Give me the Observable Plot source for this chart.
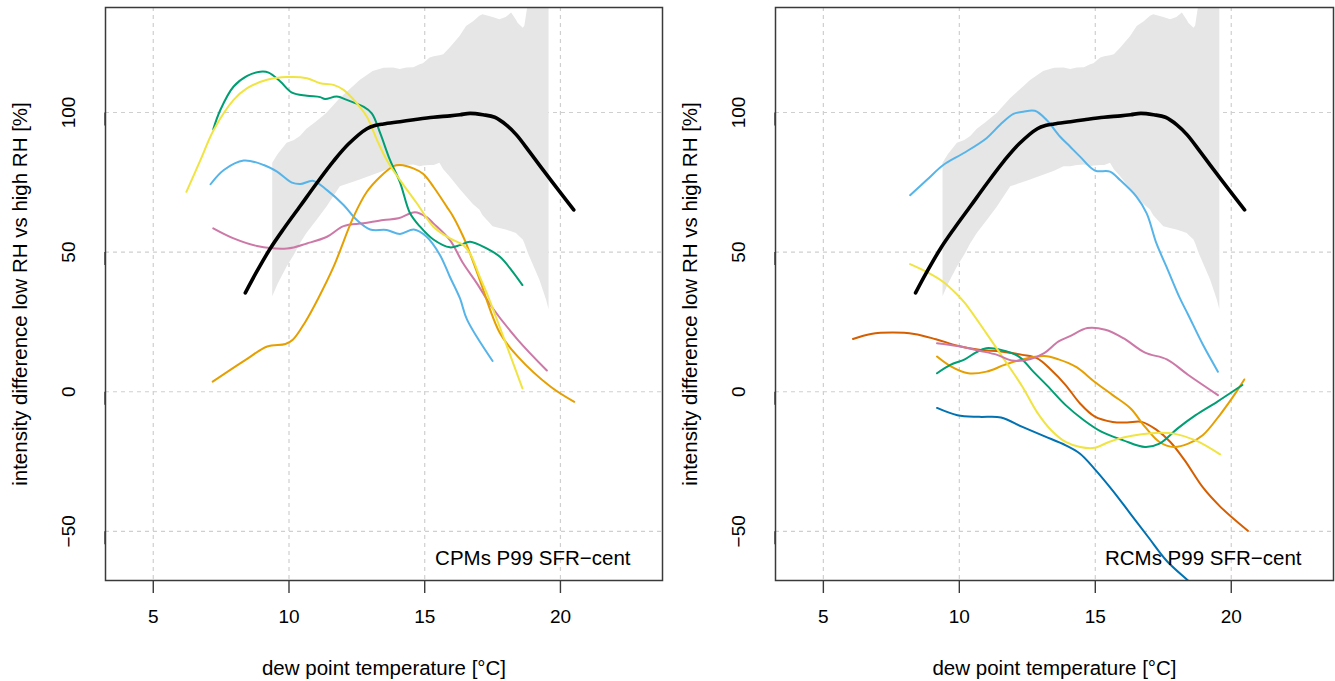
<!DOCTYPE html>
<html><head><meta charset="utf-8">
<script src="https://cdn.jsdelivr.net/npm/d3@7"></script>
<script src="https://cdn.jsdelivr.net/npm/@observablehq/plot@0.6"></script>
<style>
body{margin:0;background:#fff}
#wrap{display:flex;width:1335px;height:681px;overflow:hidden}
</style>
</head><body><div id="wrap"></div>
<script>
// ---- axis ticks & labels ----
const xTicks = [5, 10, 15, 20];
const yTicks = [-50, 0, 50, 100];
const xTitle = "dew point temperature [°C]";
const yTitle = "intensity difference low RH vs high RH [%]";
const noteCPM = "CPMs P99 SFR\u2212cent";
const noteRCM = "RCMs P99 SFR\u2212cent";

// ---- observational uncertainty band (same in both panels) ----
const bandX  = [9.4, 9.6, 9.93, 10.2, 10.42, 10.66, 11.0, 11.4, 11.89, 12.38, 12.62, 13.1, 13.5, 13.85, 14.1, 14.34, 14.6, 14.83, 14.95, 15.2, 15.35, 15.56, 15.7, 15.93, 16.3, 16.54, 16.8, 17.03, 17.15, 17.52, 17.77, 18.0, 18.2, 18.38, 18.44, 18.63, 18.69, 18.8, 18.87, 19.24, 19.49, 19.58];
const bandHi = [81.8, 85, 89, 90, 91.4, 94, 96.5, 99.7, 105, 109.3, 111.5, 114.7, 115.8, 115.9, 115.4, 115.9, 116, 117.1, 117.5, 119.5, 120, 120.3, 120.7, 123, 127.2, 130.8, 132.5, 134.5, 135, 134, 133.2, 134, 135.6, 133, 132, 130.2, 131, 138, 145, 145, 145, 145];
const bandLo = [34, 38.5, 44.7, 49, 53, 56.7, 61, 66.2, 73.4, 75, 75.8, 77.5, 79, 80.6, 80.6, 81, 81.2, 80.6, 80.8, 81, 81, 81.8, 79.5, 77, 72.5, 69.8, 67, 65.1, 63, 59.1, 58.5, 57.9, 57.3, 56.7, 56, 54.3, 53, 50, 48.3, 40, 32.8, 29.4];

// ---- observations (black, both panels) ----
const obsX = [8.39, 8.8, 9.31, 9.8, 10.42, 11.0, 11.64, 12.2, 12.87, 13.2, 13.48, 14.09, 14.6, 15.32, 15.93, 16.3, 16.67, 17.15, 17.58, 18.0, 18.38, 18.87, 19.24, 19.85, 20.49];
const obsY = [35.4, 42.8, 51.3, 58.3, 66.6, 74.4, 82.6, 88.8, 94.2, 95.4, 95.9, 96.7, 97.4, 98.3, 98.8, 99.2, 99.7, 99.2, 98.3, 95.6, 92, 85.8, 81, 73.2, 65.1];

// ---- CPM panel ----
const cpmGreenX = [7.21, 7.47, 7.96, 8.46, 8.94, 9.25, 9.68, 10.11, 10.66, 11.15, 11.33, 11.76, 12.13, 12.74, 13.05, 13.36, 13.72, 14.09, 14.46, 14.83, 15.32, 15.93, 16.3, 16.67, 17.28, 17.77, 18.2, 18.6];
const cpmGreenY = [94, 100.9, 109.3, 113.1, 114.6, 114.3, 111.1, 107.1, 106, 105.5, 104.8, 105.7, 104.5, 102.1, 99.7, 92.6, 83, 75, 63.9, 59.1, 54.5, 51.7, 52.5, 53.7, 51.3, 48.3, 43.5, 38.2];
const cpmYellowX = [6.22, 6.74, 7.23, 7.96, 8.46, 9.19, 9.93, 10.66, 11.15, 11.64, 12.01, 12.5, 12.87, 13.24, 13.6, 14.09, 14.71, 15.32, 15.93, 16.42, 16.67, 17.03, 17.34, 17.77, 18.6];
const cpmYellowY = [71.6, 83, 93.8, 104.5, 108.7, 111.7, 112.7, 112.3, 110.5, 109.9, 108.1, 103.3, 98.5, 90.2, 83, 75.8, 67.5, 59.1, 54.9, 52.5, 49.5, 41.1, 34, 23, 1.2];
const cpmPinkX = [7.21, 7.96, 8.82, 9.93, 10.66, 11.4, 12.01, 12.74, 13.48, 14.03, 14.64, 15.07, 15.32, 15.93, 16.42, 16.91, 17.5, 18.43, 19.5];
const cpmPinkY = [58.5, 54.9, 52.2, 51.3, 53.1, 55.5, 59.3, 60.3, 61.5, 62.1, 64.3, 62.5, 60.3, 54.3, 45.9, 39, 30, 18.6, 7.6];
const cpmSkyX = [7.11, 7.6, 8.33, 9.07, 9.56, 10.11, 10.42, 10.9, 11.4, 12.01, 12.5, 12.99, 13.6, 14.09, 14.6, 15.07, 15.56, 15.93, 16.3, 16.56, 17.5];
const cpmSkyY = [74.3, 79.4, 82.8, 81.2, 78.8, 74.9, 74.4, 75.5, 72.2, 66.9, 61.5, 58.1, 57.9, 56.5, 58.1, 55.5, 49, 41.1, 33.4, 25.8, 11];
const cpmOrangeX = [7.19, 8.4, 9.2, 9.87, 10.14, 10.6, 11.08, 11.64, 12.38, 12.87, 13.36, 13.85, 14.09, 14.58, 14.95, 15.32, 15.81, 16.05, 16.42, 16.67, 17.03, 17.77, 18.43, 19.64, 20.51];
const cpmOrangeY = [3.6, 11.4, 16.2, 17.1, 18.6, 25, 33.5, 44.7, 62.7, 71.6, 77, 80.8, 81.2, 80, 78, 73.4, 66.3, 62.7, 55.5, 49.5, 40, 21, 12.6, 1.8, -3.6];

// ---- RCM panel ----
const rcmSkyX = [8.19, 8.8, 9.41, 10.15, 11.0, 11.5, 11.99, 12.35, 12.78, 13.21, 13.7, 14.07, 14.44, 14.99, 15.54, 15.91, 16.52, 16.89, 17.25, 17.62, 18.11, 18.42, 18.95, 19.51];
const rcmSkyY = [70.4, 75.8, 81.2, 85.4, 90.8, 95.6, 99.5, 100.3, 100.6, 97.3, 91.4, 87.8, 84.2, 79.2, 78.8, 75.8, 69.8, 63.9, 53.1, 44.7, 33.5, 27.5, 17, 7.2];
const rcmPinkX = [9.18, 9.93, 10.73, 11.39, 11.92, 12.59, 13.12, 13.65, 14.05, 14.71, 15.37, 16.03, 16.83, 17.63, 18.42, 19.51];
const rcmPinkY = [17.4, 16.4, 14.7, 13.2, 11.2, 11.6, 13.8, 18, 19.8, 22.8, 22.2, 19.2, 14, 11.6, 6, -1.2];
const rcmVermX = [6.09, 6.75, 7.55, 8.34, 9.14, 9.93, 10.73, 11.53, 12.32, 12.85, 13.38, 13.91, 14.44, 14.97, 15.64, 16.17, 16.7, 17.23, 17.76, 18.29, 18.95, 19.62, 20.61];
const rcmVermY = [18.9, 20.7, 21.2, 20.7, 18.8, 16.5, 15, 14.4, 13.2, 12, 7.8, 2.4, -4.2, -8.8, -10.8, -11, -10.8, -13.5, -18, -24.6, -34.2, -41.4, -49.8];
const rcmOrangeX = [9.18, 9.67, 10.33, 11.0, 11.66, 12.32, 13.12, 13.65, 14.31, 14.97, 15.64, 16.3, 16.83, 17.36, 17.89, 18.42, 18.95, 19.62, 20.15, 20.48];
const rcmOrangeY = [12.6, 9.2, 6.6, 7.2, 9.6, 11.6, 12.8, 11.6, 8.8, 3.6, -1.2, -6, -12.6, -18, -19.8, -18.6, -15.6, -7.8, -0.6, 4.4];
const rcmGreenX = [9.18, 9.67, 10.2, 10.6, 10.99, 11.53, 12.19, 12.72, 13.25, 13.91, 14.58, 15.24, 16.03, 16.83, 17.36, 18.02, 18.69, 19.48, 20.41];
const rcmGreenY = [6.6, 9.6, 11.6, 14, 15.6, 15, 12.6, 7.2, 2, -4.8, -10.2, -14.4, -17.4, -19.8, -18.6, -13.2, -8.4, -3.6, 2.4];
const rcmYellowX = [8.19, 8.8, 9.41, 9.9, 10.2, 10.99, 11.66, 12.32, 12.85, 13.38, 13.91, 14.44, 14.97, 15.5, 16.03, 16.7, 17.36, 17.89, 18.69, 19.59];
const rcmYellowY = [45.7, 42.9, 39.3, 35, 31.8, 21, 11.4, 1.8, -7.2, -13.8, -18, -19.8, -20.1, -18, -16.4, -15.2, -14.7, -15, -17.4, -22.4];
const rcmBlueX = [9.18, 9.93, 10.73, 11.53, 12.32, 13.12, 13.91, 14.44, 14.97, 15.64, 16.3, 16.96, 17.63, 18.42, 18.9];
const rcmBlueY = [-5.8, -8.4, -9, -9.2, -12.6, -15.9, -19.2, -22.2, -27.6, -35.4, -43.8, -52.2, -60.6, -67.7, -72];

const COL = {black:"#000000", orange:"#E69F00", sky:"#56B4E9", green:"#009E73", yellow:"#F0E442", blue:"#0072B2", verm:"#D55E00", pink:"#CC79A7"};

const zip = (xs, ys) => xs.map((x, i) => ({x, y: ys[i]}));
const band = bandX.map((x, i) => ({x, lo: bandLo[i], hi: bandHi[i]}));
const obs = zip(obsX, obsY);

const cpmSeries = [
  [zip(cpmSkyX, cpmSkyY), COL.sky],
  [zip(cpmPinkX, cpmPinkY), COL.pink],
  [zip(cpmOrangeX, cpmOrangeY), COL.orange],
  [zip(cpmGreenX, cpmGreenY), COL.green],
  [zip(cpmYellowX, cpmYellowY), COL.yellow]
];
const rcmSeries = [
  [zip(rcmBlueX, rcmBlueY), COL.blue],
  [zip(rcmVermX, rcmVermY), COL.verm],
  [zip(rcmOrangeX, rcmOrangeY), COL.orange],
  [zip(rcmGreenX, rcmGreenY), COL.green],
  [zip(rcmYellowX, rcmYellowY), COL.yellow],
  [zip(rcmPinkX, rcmPinkY), COL.pink],
  [zip(rcmSkyX, rcmSkyY), COL.sky]
];

const fmt = d => d < 0 ? "\u2212" + Math.abs(d) : String(d);
const FONT = "'Liberation Sans', Arial, Helvetica, sans-serif";

function panel(series, note, width, marginRight) {
  const gridStyle = {stroke: "#cfcfcf", strokeOpacity: 1, strokeWidth: 1.2, strokeDasharray: "4,4"};
  return Plot.plot({
    width, height: 681,
    marginTop: 7, marginBottom: 101, marginLeft: 105, marginRight,
    style: {fontFamily: FONT, background: "#fff", color: "#000", overflow: "visible"},
    x: {domain: [3.24, 23.76]},
    y: {domain: [-67.6, 137.6]},
    marks: [
      Plot.gridX(xTicks, gridStyle),
      Plot.gridY(yTicks, gridStyle),
      Plot.areaY(band, {x: "x", y1: "lo", y2: "hi", fill: "#e6e6e6", clip: true}),
      ...series.map(([d, c]) => Plot.line(d, {x: "x", y: "y", stroke: c, strokeWidth: 2, curve: "catmull-rom", clip: true})),
      Plot.line(obs, {x: "x", y: "y", stroke: COL.black, strokeWidth: 3.6, curve: "catmull-rom", clip: true}),
      Plot.frame({stroke: "#3a3a3a", strokeWidth: 1.5}),
      Plot.axisX(xTicks, {tickSize: 13, tickPadding: 16, fontSize: 19, stroke: "#3a3a3a", strokeWidth: 1.4, label: null, tickFormat: fmt}),
      Plot.axisY(yTicks, {tickSize: 13, tickPadding: 24, fontSize: 19, rotate: -90, textAnchor: "middle", stroke: "#3a3a3a", strokeWidth: 1.4, label: null, tickFormat: fmt}),
      Plot.text([xTitle], {frameAnchor: "bottom", dy: 88, fontSize: 20.5, lineAnchor: "middle", fill: "#000"}),
      Plot.text([yTitle], {frameAnchor: "left", dx: -85, rotate: -90, textAnchor: "middle", fontSize: 20.5, lineAnchor: "middle", fill: "#000"}),
      Plot.text([note], {frameAnchor: "bottom-right", dx: -32, dy: -22, textAnchor: "end", lineAnchor: "middle", fontSize: 20.5, fill: "#000"})
    ]
  });
}

const wrap = document.getElementById("wrap");
wrap.appendChild(panel(cpmSeries, noteCPM, 670, 8));
wrap.appendChild(panel(rcmSeries, noteRCM, 665, 2));
</script></body></html>
